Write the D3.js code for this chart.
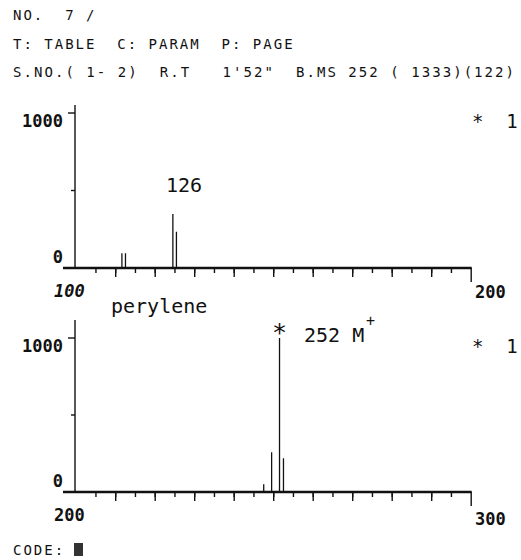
<!DOCTYPE html>
<html>
<head>
<meta charset="utf-8">
<script src="https://cdn.jsdelivr.net/npm/d3@7"></script>
<style>
    body { margin: 0; background: #fff; }
    svg { display: block; }
</style>
</head>
<body>
<svg width="521" height="560"></svg>
<script>
// printout header
var headerLines = [
    "NO.  7 /",
    "T: TABLE  C: PARAM  P: PAGE",
    "S.NO.( 1- 2)  R.T   1'52\"  B.MS 252 ( 1333)(122)"
];

// upper spectrum m/z 100-200
var topMass = [111.7, 112.6, 124.6, 125.5];
var topIntensity = [95, 95, 348, 234];

// lower spectrum m/z 200-300
var bottomMass = [247.6, 249.6, 251.6, 252.6];
var bottomIntensity = [50, 258, 1000, 219];

var yTicks = [500, 1000];
var yLabels = [0, 1000];

var svg = d3.select("svg"),
    width = +svg.attr("width"),
    height = +svg.attr("height");

var mono = "'DejaVu Sans Mono', 'Liberation Mono', monospace";

svg.append("g")
    .selectAll("text")
    .data(headerLines)
    .enter()
    .append("text")
    .attr("x", 13)
    .attr("y", function (d, i) { return 20 + i * 28.5; })
    .attr("font-family", mono)
    .attr("font-size", 14)
    .attr("letter-spacing", 2)
    .attr("fill", "#111")
    .style("white-space", "pre")
    .text(function (d) { return d; });

// last header row runs right to the edge
svg.select("g").selectAll("text")
    .filter(function (d, i) { return i === 2; })
    .attr("textLength", 503)
    .attr("lengthAdjust", "spacing");

var panels = [
    { mass: topMass, intensity: topIntensity, domain: [100, 200], y0: 268, y1000: 113, axisTop: 105, italicStart: true },
    { mass: bottomMass, intensity: bottomIntensity, domain: [200, 300], y0: 492, y1000: 338, axisTop: 320, italicStart: false }
];

panels.forEach(drawPanel);

function drawPanel(p) {
    var x = d3.scaleLinear().domain(p.domain).range([75.7, 470.7]);
    var y = d3.scaleLinear().domain([0, 1000]).range([p.y0, p.y1000]);
    var g = svg.append("g");

    // y axis
    g.append("line")
        .attr("x1", 75).attr("x2", 75)
        .attr("y1", p.axisTop).attr("y2", p.y0)
        .attr("stroke", "#111")
        .attr("stroke-width", 1.4);

    g.append("g")
        .selectAll("line")
        .data(yTicks)
        .enter()
        .append("line")
        .attr("x1", function (d) { return d === 1000 ? 68 : 71; })
        .attr("x2", 75)
        .attr("y1", function (d) { return y(d); })
        .attr("y2", function (d) { return y(d); })
        .attr("stroke", "#111")
        .attr("stroke-width", 1.4);

    g.append("g")
        .selectAll("text")
        .data(yLabels)
        .enter()
        .append("text")
        .attr("x", 63)
        .attr("y", function (d) { return d === 0 ? y(d) - 5 : y(d) + 14; })
        .attr("text-anchor", "end")
        .attr("font-family", mono)
        .attr("font-size", 17)
        .attr("font-weight", "bold")
        .attr("fill", "#111")
        .text(function (d) { return d; });

    // x axis ticks: minor every 5, major every 10
    var inner = function (n) {
        return x.ticks(n).filter(function (v) { return v > p.domain[0] && v < p.domain[1]; });
    };

    var minor = g.append("g")
        .attr("transform", "translate(0," + p.y0 + ")")
        .call(d3.axisBottom(x).tickValues(inner(20)).tickSize(5).tickFormat(""));
    var major = g.append("g")
        .attr("transform", "translate(0," + p.y0 + ")")
        .call(d3.axisBottom(x).tickValues(inner(10)).tickSize(9).tickFormat(""));
    var end = g.append("g")
        .attr("transform", "translate(0," + p.y0 + ")")
        .call(d3.axisBottom(x).tickValues([p.domain[1]]).tickSize(14).tickFormat(""));

    [minor, major, end].forEach(function (a) {
        a.select(".domain").remove();
        a.selectAll(".tick line").attr("stroke", "#111").attr("stroke-width", 1.4);
    });

    g.append("line")
        .attr("x1", 63).attr("x2", x(p.domain[1]) + 1)
        .attr("y1", p.y0).attr("y2", p.y0)
        .attr("stroke", "#111")
        .attr("stroke-width", 2.6);

    g.append("text")
        .attr("x", 54)
        .attr("y", p.y0 + 29)
        .attr("font-family", mono)
        .attr("font-size", 17)
        .attr("font-weight", "bold")
        .attr("font-style", p.italicStart ? "italic" : "normal")
        .attr("fill", "#111")
        .text(p.domain[0]);

    g.append("text")
        .attr("x", 475)
        .attr("y", p.y0 + (p.italicStart ? 30 : 33))
        .attr("font-family", mono)
        .attr("font-size", 17)
        .attr("font-weight", "bold")
        .attr("fill", "#111")
        .text(p.domain[1]);

    g.append("text")
        .attr("x", 472)
        .attr("y", y(1000) + 15)
        .attr("font-family", mono)
        .attr("font-size", 19)
        .attr("fill", "#111")
        .style("white-space", "pre")
        .text("*  1");

    // peaks
    g.append("g")
        .selectAll("line")
        .data(p.mass)
        .enter()
        .append("line")
        .attr("x1", function (d) { return x(d); })
        .attr("x2", function (d) { return x(d); })
        .attr("y1", y(0))
        .attr("y2", function (d, i) { return y(p.intensity[i]); })
        .attr("stroke", "#111")
        .attr("stroke-width", 1.3);

    p.x = x;
    p.y = y;
}

// annotations
var note = svg.append("g")
    .attr("font-family", mono)
    .attr("font-size", 20)
    .attr("fill", "#111");

note.append("text")
    .attr("x", 184)
    .attr("y", 192)
    .attr("text-anchor", "middle")
    .text("126");

note.append("text")
    .attr("x", 111)
    .attr("y", 313)
    .text("perylene");

note.append("text")
    .attr("x", panels[1].x(bottomMass[2]))
    .attr("y", 341)
    .attr("text-anchor", "middle")
    .attr("font-size", 25)
    .text("*");

note.append("text")
    .attr("x", 304)
    .attr("y", 342)
    .text("252 M");

note.append("text")
    .attr("x", 366)
    .attr("y", 326)
    .attr("font-size", 15)
    .text("+");

// footer
svg.append("text")
    .attr("x", 13)
    .attr("y", 555)
    .attr("font-family", mono)
    .attr("font-size", 14)
    .attr("letter-spacing", 2)
    .attr("fill", "#111")
    .text("CODE:");

svg.append("rect")
    .attr("x", 74)
    .attr("y", 543)
    .attr("width", 9)
    .attr("height", 13)
    .attr("fill", "#333");
</script>
</body>
</html>
